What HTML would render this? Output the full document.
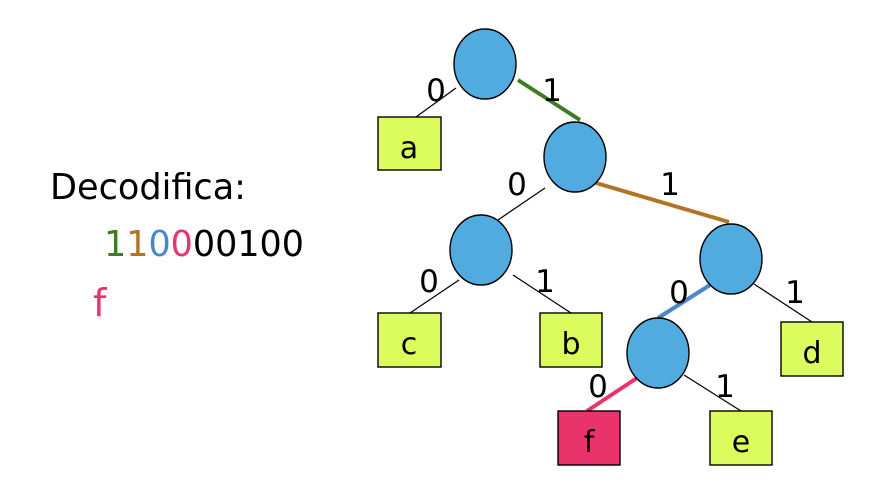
<!DOCTYPE html>
<html><head><meta charset="utf-8"><style>
body{margin:0;background:#fff;width:870px;height:500px;overflow:hidden}
svg{display:block}
text{font-family:"DejaVu Sans","Liberation Sans",sans-serif}
</style></head><body>
<svg width="870" height="500" viewBox="0 0 870 500" xmlns="http://www.w3.org/2000/svg">
<text x="50" y="199" font-size="36" fill="#000" textLength="196" lengthAdjust="spacingAndGlyphs">Decodifica:</text>
<text x="104" y="256" font-size="36" textLength="200" lengthAdjust="spacingAndGlyphs"><tspan fill="#3b7d23">1</tspan><tspan fill="#b07424">1</tspan><tspan fill="#4a86c8">0</tspan><tspan fill="#e8336b">0</tspan><tspan fill="#000">00100</tspan></text>
<text x="93" y="316" font-size="38" fill="#e8336b">f</text>
<g stroke="#000" stroke-width="1.2">
<line x1="456" y1="88" x2="416" y2="117"/>
<line x1="545" y1="188" x2="495" y2="222"/>
<line x1="459" y1="280" x2="410" y2="313"/>
<line x1="513" y1="275" x2="571" y2="313"/>
<line x1="754" y1="284" x2="812" y2="322"/>
<line x1="684" y1="375" x2="741" y2="411"/>
</g>
<g stroke-width="4">
<line x1="518" y1="80" x2="580" y2="120" stroke="#3b7d23"/>
<line x1="596" y1="183" x2="729" y2="222" stroke="#b07424"/>
<line x1="710" y1="285" x2="658" y2="318" stroke="#4a86c8"/>
<line x1="637" y1="378" x2="587" y2="411" stroke="#e8336b"/>
</g>
<g fill="#52abdf" stroke="#000" stroke-width="1.4">
<ellipse cx="485" cy="64" rx="31" ry="35"/>
<ellipse cx="575" cy="157" rx="31" ry="35"/>
<ellipse cx="481" cy="250" rx="31" ry="35"/>
<ellipse cx="731" cy="259" rx="31" ry="35"/>
<ellipse cx="658" cy="353" rx="31" ry="35"/>
</g>
<g stroke="#000" stroke-width="1.4">
<rect x="378" y="117" width="63" height="53" fill="#dbfc5c"/>
<rect x="378" y="313" width="63" height="54" fill="#dbfc5c"/>
<rect x="540" y="313" width="62" height="54" fill="#dbfc5c"/>
<rect x="781" y="322" width="62" height="54" fill="#dbfc5c"/>
<rect x="558" y="411" width="62" height="54" fill="#e8336b"/>
<rect x="710" y="411" width="62" height="54" fill="#dbfc5c"/>
</g>
<g font-size="30" fill="#000" text-anchor="middle">
<text x="409" y="158">a</text>
<text x="409" y="354">c</text>
<text x="571" y="354">b</text>
<text x="812" y="363">d</text>
<text x="589" y="452">f</text>
<text x="741" y="452">e</text>
</g>
<g font-size="31" fill="#000" text-anchor="middle">
<text x="436" y="101">0</text>
<text x="552" y="101">1</text>
<text x="517" y="195">0</text>
<text x="670" y="195">1</text>
<text x="429" y="292">0</text>
<text x="545" y="292">1</text>
<text x="679" y="303">0</text>
<text x="795" y="303">1</text>
<text x="598" y="397">0</text>
<text x="725" y="397">1</text>
</g>
</svg>
</body></html>
